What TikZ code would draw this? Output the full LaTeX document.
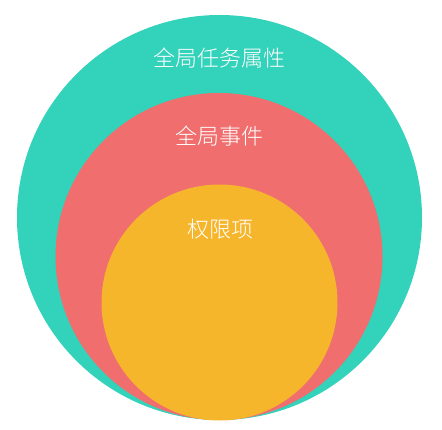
\documentclass[tikz,border=0pt]{standalone}
\usepackage{fontspec}
\newfontfamily\cjk{Noto Sans CJK SC Light}
\definecolor{teal1}{HTML}{33D2BA}
\definecolor{red1}{HTML}{F06E6E}
\definecolor{yel1}{HTML}{F6B62C}
\begin{document}
\begin{tikzpicture}[x=1pt,y=-1pt,
  ring/.style={circle,inner sep=0pt,outer sep=0pt},
  lbl/.style={text=white,font=\cjk\fontsize{22}{22}\selectfont,inner sep=0pt}]
\useasboundingbox (0,0) rectangle (442,430);
\fill[white] (0,0) rectangle (442,430);
\node[ring,fill=teal1,minimum size=405pt] (outer) at (219.5,217.5) {};
\node[ring,fill=red1,minimum size=327pt] (mid) at (219,256.5) {};
\node[ring,fill=yel1,minimum size=236pt] (inner) at (219.5,302.5) {};
\node[lbl] (t1) at (219,58) {全局任务属性};
\node[lbl] (t2) at (219,136) {全局事件};
\node[lbl] (t3) at (220,229) {权限项};
\end{tikzpicture}
\end{document}
